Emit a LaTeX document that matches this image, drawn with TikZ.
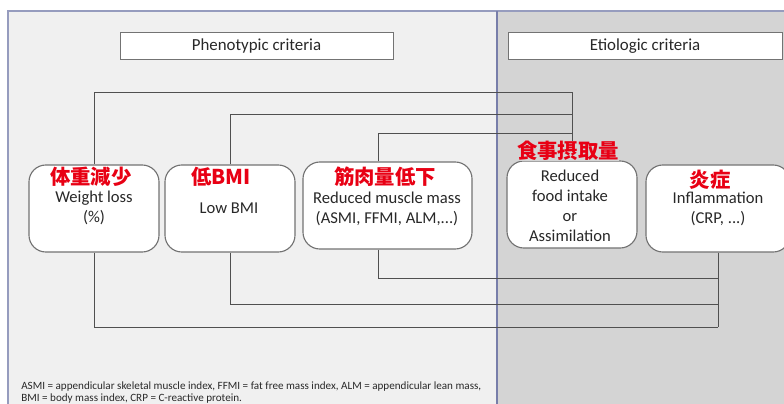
\documentclass[tikz,border=0pt]{standalone}
\usepackage{fontspec}
\setmainfont{Carlito}
\newfontfamily\jpfont{Noto Sans CJK JP}
\usetikzlibrary{positioning}

\definecolor{panelL}{RGB}{240,240,240}
\definecolor{panelR}{RGB}{212,212,212}
\definecolor{framebl}{RGB}{150,156,190}
\definecolor{divbl}{RGB}{120,126,170}
\definecolor{jpred}{RGB}{232,0,20}
\definecolor{txtgr}{RGB}{40,40,40}
\definecolor{boxgr}{RGB}{115,115,115}
\definecolor{linegr}{RGB}{80,80,80}

\tikzset{
  critbox/.style={draw=boxgr, fill=white, rounded corners=12, line width=0.8pt, minimum width=#1},
  titlebox/.style={draw=boxgr, fill=white, minimum height=0.67cm, minimum width=#1,
                   font=\fontsize{12}{14}\selectfont, text=txtgr},
  jplabel/.style={text=jpred, font=\jpfont\bfseries\fontsize{14.5}{16}\selectfont, inner sep=0pt},
  entext/.style={text=txtgr, align=center, font=\fontsize{11.8}{14.2}\selectfont},
  link/.style={draw=linegr, line width=0.7pt}
}

\begin{document}
\begin{tikzpicture}[x=0.025cm,y=-0.025cm]
\useasboundingbox (0,0) rectangle (784,403);
\clip (0,0) rectangle (784,403);

% panels
\fill[panelL] (8,11) rectangle (497,410);
\fill[panelR] (497,11) rectangle (790,410);
\draw[framebl, line width=0.9pt] (8,410) -- (8,11) -- (790,11);
\draw[divbl, line width=1pt] (497,11) -- (497,410);

% headers
\node[titlebox=6.825cm] (pheno) at (256.5,45.5) {Phenotypic criteria};
\node[titlebox=6.85cm] (etio) at (645,46) {Etiologic criteria};

% criteria boxes
\begin{scope}[every node/.style={minimum height=2.175cm}]
    \node[critbox=3.25cm] (wl) at (94,208.5) {};
    \node[critbox=3.25cm] (bmi) at (230,208.5) {};
    \node[critbox=4.225cm] (mm) at (387.5,205.5) {};
    \node[critbox=3.25cm] (fi) at (572,204.5) {};
    \node[critbox=3.6cm] (inf) at (718,208.5) {};
\end{scope}

% connectors
\coordinate (t1) at (572,92);
\coordinate (t2) at (572,114);
\coordinate (t3) at (572,133);
\coordinate (m1) at (378,133);
\coordinate (b1) at (718,278);
\coordinate (b2) at (718,304);
\coordinate (b3) at (718,327);

\draw[link] (wl.north) |- (t1) -- (fi.north);
\draw[link] (bmi.north) |- (t2);
\draw[link] (m1 |- mm.north) -- (m1) -- (t3);
\draw[link] (m1 |- mm.south) |- (b1);
\draw[link] (bmi.south) |- (b2);
\draw[link] (wl.south) |- (b3);
\draw[link] (inf.south) -- (b3);

% texts
\node[jplabel] (wlj) at (91,177) {体重減少};
\node[entext] (wle) at (94,208) {Weight loss\\(\%)};
\node[jplabel] (bmij) at (221,177) {低BMI};
\node[entext] (bmie) at (229,208) {Low BMI};
\node[jplabel] (mmj) at (385,177) {筋肉量低下};
\node[entext] (mme) at (387,209) {Reduced muscle mass\\(ASMI, FFMI, ALM,...)};
\node[jplabel, fill=panelR] (fij) at (568,151) {食事摂取量};
\node[entext] (fie) at (570,206) {Reduced\\food intake\\or\\Assimilation};
\node[jplabel] (infj) at (710,180) {炎症};
\node[entext] (infe) at (718,209) {Inflammation\\(CRP, ...)};

% footnote
\node[anchor=north west, align=left, text=txtgr, inner sep=0pt,
      font=\fontsize{7.9}{9.2}\selectfont] (note) at (21,381)
  {ASMI = appendicular skeletal muscle index, FFMI = fat free mass index, ALM = appendicular lean mass,\\
   BMI = body mass index, CRP = C-reactive protein.};
\end{tikzpicture}
\end{document}
